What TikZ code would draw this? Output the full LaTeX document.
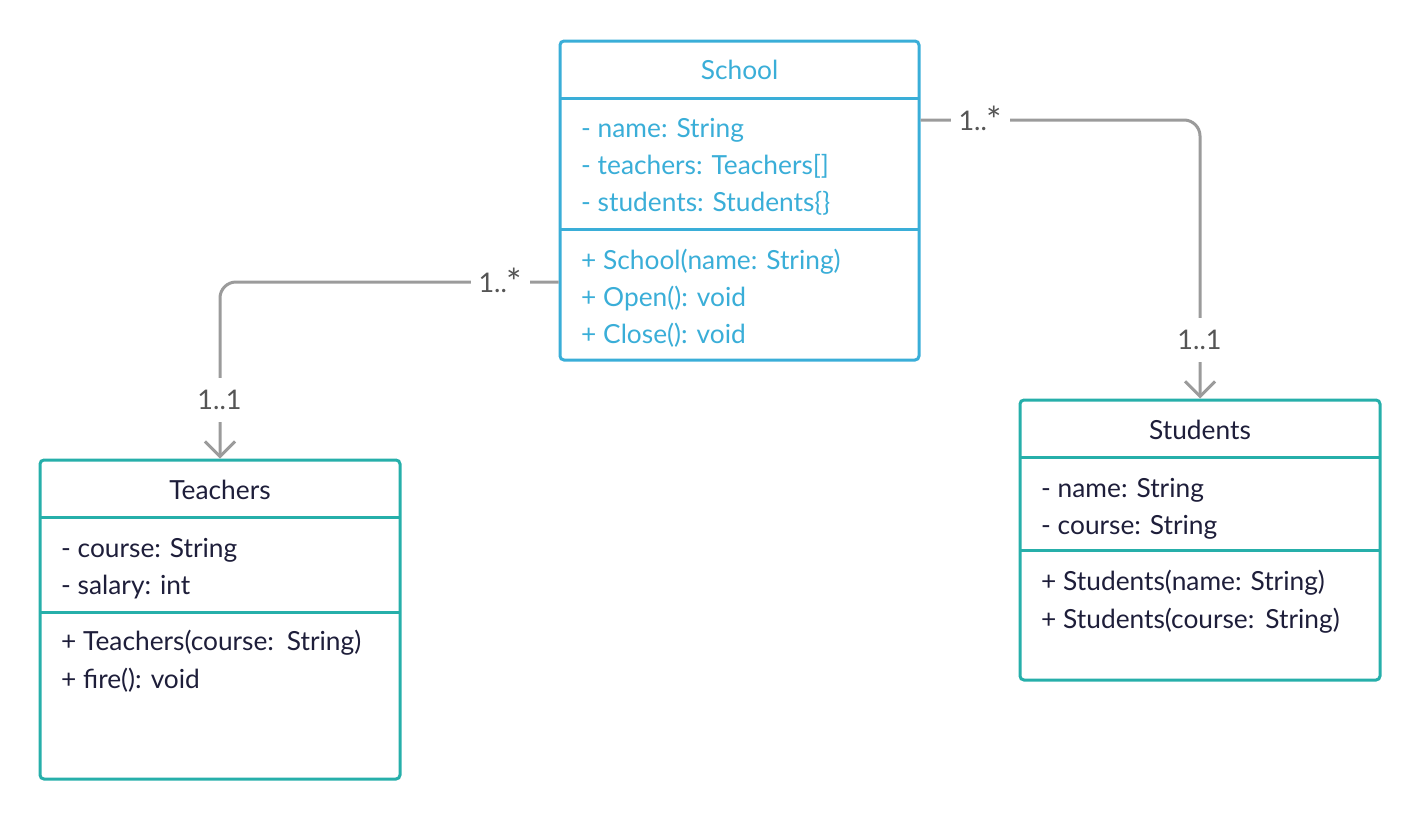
\documentclass[tikz,border=0pt]{standalone}
\usepackage{fontspec}
\usepackage{graphicx}
\setmainfont{Lato}
\usetikzlibrary{arrows.meta}
\definecolor{schoolblue}{HTML}{3AAED8}
\definecolor{tealc}{HTML}{26AFAA}
\definecolor{conngray}{HTML}{9B9B9B}
\definecolor{textdark}{HTML}{1E1E3A}
\definecolor{labgray}{HTML}{555555}
\newcommand{\bigast}{\raisebox{-3pt}{\scalebox{1.35}{*}}}
\begin{document}
\begin{tikzpicture}[x=1pt,y=-1pt,
 classbox/.style={draw=#1, line width=3pt, rounded corners=4pt, fill=white, inner sep=0pt},
 divider/.style={draw=#1, line width=3pt},
 member/.style={anchor=base west, inner sep=0pt, font=\fontsize{26.3}{30}\selectfont},
 ctitle/.style={anchor=base, inner sep=0pt, font=\fontsize{26.3}{30}\selectfont},
 conn/.style={draw=conngray, line width=3pt, rounded corners=16pt, -{Straight Barb[length=15pt 0 0,width=30pt 0 0]}},
 mult/.style={fill=white, text=labgray, inner xsep=8pt, inner ysep=12pt, font=\fontsize{27}{30}\selectfont},
]
\useasboundingbox (0,0) rectangle (1420,820);

% School
\node[classbox=schoolblue, minimum width=359pt, minimum height=319pt] (school) at (739.5,200.5) {};
\draw[divider=schoolblue] (560,98) -- (919,98);
\draw[divider=schoolblue] (560,229) -- (919,229);
\node[ctitle, text=schoolblue] (schooltitle) at (739.5,79.5) {School};
\node[member, text=schoolblue] (sa1) at (581,137) {- name: String};
\node[member, text=schoolblue] (sa2) at (581,174) {- teachers: Teachers[]};
\node[member, text=schoolblue] (sa3) at (581,211) {- students: Students\{\}};
\node[member, text=schoolblue] (sm1) at (581,269) {+ School(name: String)};
\node[member, text=schoolblue] (sm2) at (581,306) {+ Open(): void};
\node[member, text=schoolblue] (sm3) at (581,343) {+ Close(): void};

% Teachers
\node[classbox=tealc, minimum width=360pt, minimum height=319pt] (teachers) at (220,619.5) {};
\draw[divider=tealc] (40,517) -- (400,517);
\draw[divider=tealc] (40,612) -- (400,612);
\node[ctitle, text=textdark] (teacherstitle) at (220,499.5) {Teachers};
\node[member, text=textdark] (ta1) at (61,557) {- course: String};
\node[member, text=textdark] (ta2) at (61,594) {- salary: int};
\node[member, text=textdark] (tm1) at (61,650) {+ Teachers(course:\hspace{4pt} String)};
\node[member, text=textdark] (tm2) at (61,688) {+ fire(): void};

% Students
\node[classbox=tealc, minimum width=360pt, minimum height=280pt] (students) at (1200,540) {};
\draw[divider=tealc] (1020,457) -- (1380,457);
\draw[divider=tealc] (1020,550) -- (1380,550);
\node[ctitle, text=textdark] (studentstitle) at (1200,439.5) {Students};
\node[member, text=textdark] (sta1) at (1041,497) {- name: String};
\node[member, text=textdark] (sta2) at (1041,534) {- course: String};
\node[member, text=textdark] (stm1) at (1041,590) {+ Students(name: String)};
\node[member, text=textdark] (stm2) at (1041,628) {+ Students(course:\hspace{2pt} String)};

% Connectors
\draw[conn] ([yshift=-81.5pt]school.west) -| (teachers.north);
\draw[conn] ([yshift=80.5pt]school.east) -| (students.north);
\node[mult] (m1) at (500.5,282) {1..\bigast};
\node[mult] (m2) at (219.5,400) {1..1};
\node[mult] (m3) at (980.5,120) {1..\bigast};
\node[mult] (m4) at (1199.5,340) {1..1};
\end{tikzpicture}
\end{document}
